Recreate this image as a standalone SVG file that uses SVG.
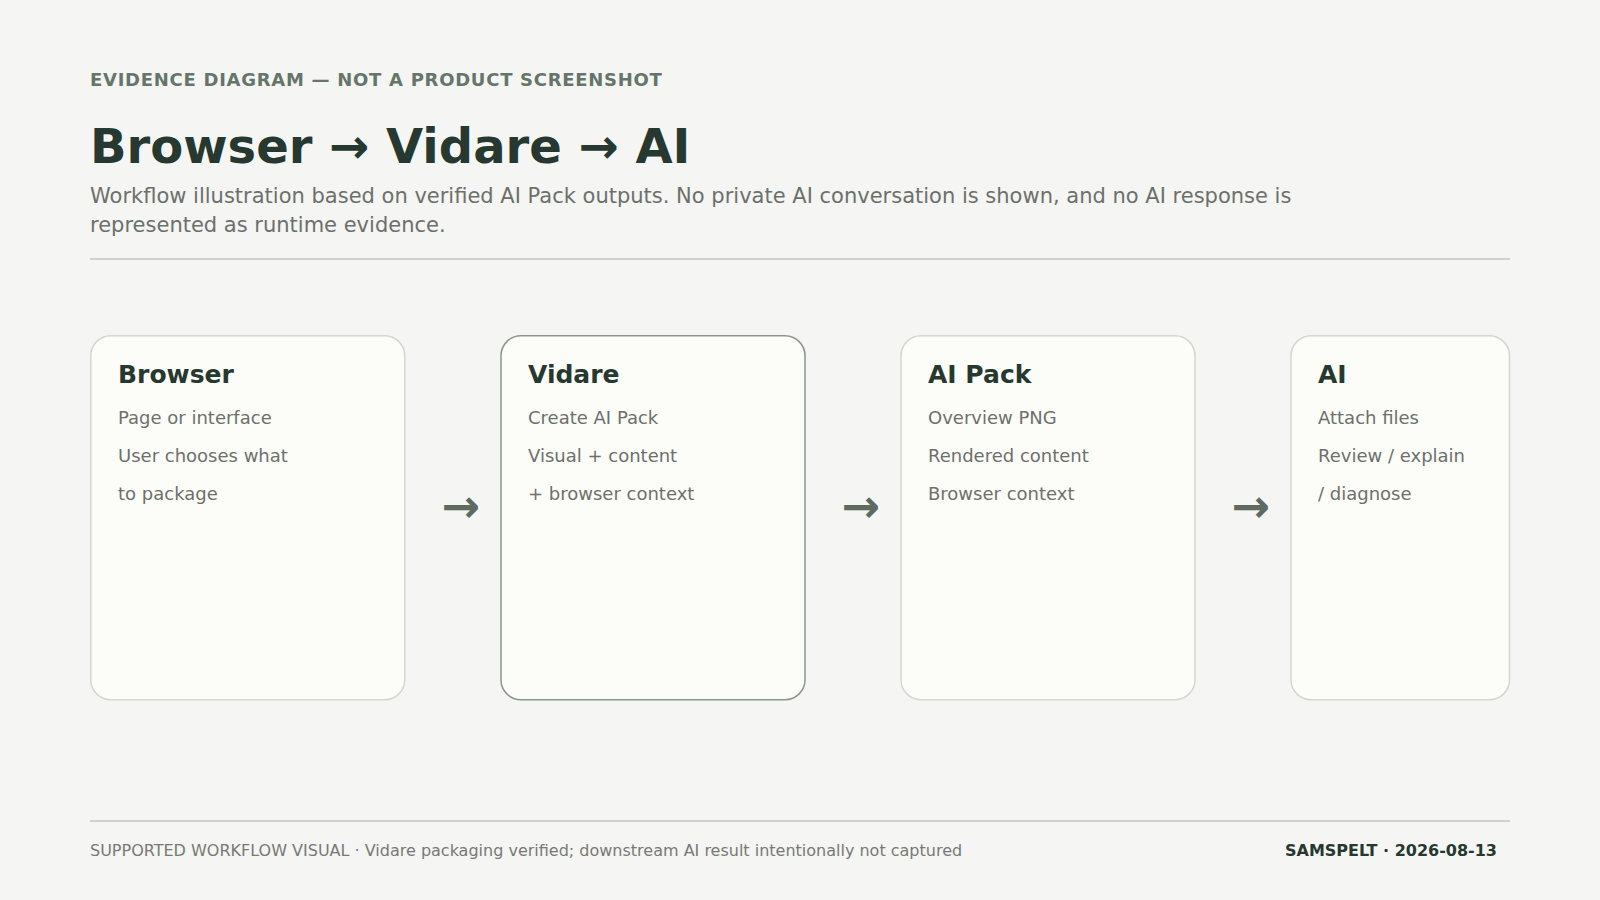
<svg xmlns="http://www.w3.org/2000/svg" width="1600" height="900" viewBox="0 0 1600 900">
<style>
.bg{fill:#f5f5f3}
.eyebrow{font-family:"DejaVu Sans",sans-serif;font-size:18px;font-weight:bold;fill:#66756a;letter-spacing:0.72px}
.title{font-family:"DejaVu Sans",sans-serif;font-size:48px;font-weight:bold;fill:#26382f}
.sub{font-family:"DejaVu Sans",sans-serif;font-size:21px;fill:#6c706b}
.rule{stroke:#d2d2cd;stroke-width:2}
.card{fill:#fcfcf9;stroke:#d6d5cf;stroke-width:1.5}
.card.hl{stroke:#8a968b}
.ct{font-family:"DejaVu Sans",sans-serif;font-size:25px;font-weight:bold;fill:#26382f}
.cl{font-family:"DejaVu Sans",sans-serif;font-size:18px;fill:#6c706b}
.arrow{font-family:"DejaVu Sans",sans-serif;font-size:46px;font-weight:bold;fill:#5f6a60;text-anchor:middle}
.foot{font-family:"DejaVu Sans",sans-serif;font-size:16px;fill:#777a75}
.footr{font-family:"DejaVu Sans",sans-serif;font-size:16px;font-weight:bold;fill:#26382f;text-anchor:end}
</style>
<rect class="bg" x="0" y="0" width="1600" height="900"/>
<g id="header">
<text class="eyebrow" x="90" y="86">EVIDENCE DIAGRAM — NOT A PRODUCT SCREENSHOT</text>
<text class="title" x="90" y="163">Browser → Vidare → AI</text>
<text class="sub" x="90" y="203">Workflow illustration based on verified AI Pack outputs. No private AI conversation is shown, and no AI response is</text>
<text class="sub" x="90" y="232">represented as runtime evidence.</text>
<line class="rule" x1="90" y1="259" x2="1510" y2="259"/>
</g>
<g id="node-browser">
<rect class="card" x="90.75" y="335.75" width="314" height="364" rx="20"/>
<text class="ct" x="118" y="383">Browser</text>
<text class="cl" x="118" y="424">Page or interface</text>
<text class="cl" x="118" y="462">User chooses what</text>
<text class="cl" x="118" y="500">to package</text>
</g>
<g id="node-vidare">
<rect class="card hl" x="501" y="335.75" width="304" height="364" rx="20"/>
<text class="ct" x="528" y="383">Vidare</text>
<text class="cl" x="528" y="424">Create AI Pack</text>
<text class="cl" x="528" y="462">Visual + content</text>
<text class="cl" x="528" y="500">+ browser context</text>
</g>
<g id="node-aipack">
<rect class="card" x="901" y="335.75" width="294" height="364" rx="20"/>
<text class="ct" x="928" y="383">AI Pack</text>
<text class="cl" x="928" y="424">Overview PNG</text>
<text class="cl" x="928" y="462">Rendered content</text>
<text class="cl" x="928" y="500">Browser context</text>
</g>
<g id="node-ai">
<rect class="card" x="1291" y="335.75" width="218.5" height="364" rx="20"/>
<text class="ct" x="1318" y="383">AI</text>
<text class="cl" x="1318" y="424">Attach files</text>
<text class="cl" x="1318" y="462">Review / explain</text>
<text class="cl" x="1318" y="500">/ diagnose</text>
</g>
<g id="connectors">
<text class="arrow" x="461" y="522">→</text>
<text class="arrow" x="861" y="522">→</text>
<text class="arrow" x="1251" y="522">→</text>
</g>
<g id="footer">
<line class="rule" x1="90" y1="821" x2="1510" y2="821"/>
<text class="foot" x="90" y="856">SUPPORTED WORKFLOW VISUAL · Vidare packaging verified; downstream AI result intentionally not captured</text>
<text class="footr" x="1497" y="856">SAMSPELT · 2026-08-13</text>
</g>
</svg>
